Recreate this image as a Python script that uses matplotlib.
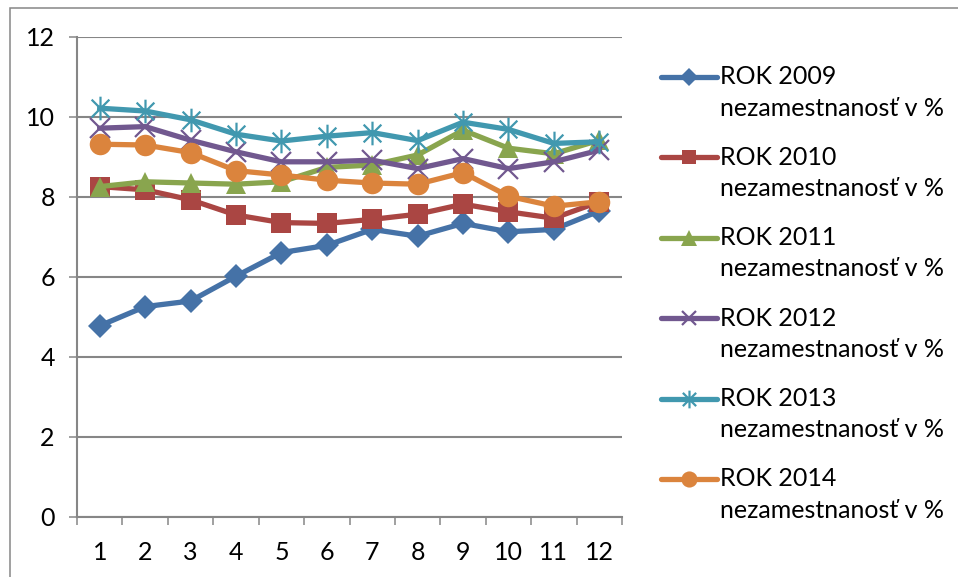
import matplotlib
matplotlib.use("Agg")
import matplotlib.pyplot as plt
from matplotlib.path import Path
from matplotlib.lines import Line2D
from matplotlib.patches import Rectangle

months = [1, 2, 3, 4, 5, 6, 7, 8, 9, 10, 11, 12]
month_labels = ["1", "2", "3", "4", "5", "6", "7", "8", "9", "10", "11", "12"]

rok_2009 = [4.78, 5.26, 5.40, 6.02, 6.61, 6.79, 7.19, 7.02, 7.34, 7.13, 7.19, 7.65]
rok_2010 = [8.26, 8.18, 7.93, 7.55, 7.36, 7.34, 7.44, 7.57, 7.82, 7.63, 7.47, 7.88]
rok_2011 = [8.26, 8.38, 8.35, 8.32, 8.38, 8.74, 8.80, 9.05, 9.67, 9.22, 9.08, 9.42]
rok_2012 = [9.72, 9.76, 9.42, 9.13, 8.88, 8.88, 8.92, 8.71, 8.96, 8.71, 8.88, 9.17]
rok_2013 = [10.22, 10.15, 9.93, 9.57, 9.40, 9.52, 9.61, 9.41, 9.87, 9.69, 9.34, 9.38]
rok_2014 = [9.32, 9.30, 9.11, 8.66, 8.55, 8.42, 8.35, 8.32, 8.61, 8.02, 7.77, 7.88]

labels = ["ROK 2009", "ROK 2010", "ROK 2011", "ROK 2012", "ROK 2013", "ROK 2014"]
sublabel = "nezamestnanosť v %"
y_ticks = [0, 2, 4, 6, 8, 10, 12]

star = Path([(0, -1), (0, 1), (-0.75, -0.75), (0.75, 0.75), (-0.75, 0.75), (0.75, -0.75)],
            [Path.MOVETO, Path.LINETO, Path.MOVETO, Path.LINETO, Path.MOVETO, Path.LINETO])

styles = [
    dict(color="#4572A7", marker="D", ms=12, mew=0),
    dict(color="#AA4643", marker="s", ms=14, mew=0),
    dict(color="#89A54E", marker="^", ms=15, mew=0),
    dict(color="#71588F", marker="x", ms=14, mew=1.6),
    dict(color="#4198AF", marker=star, ms=17, mew=1.6),
    dict(color="#DB843D", marker="o", ms=15.5, mew=0),
]
series = [rok_2009, rok_2010, rok_2011, rok_2012, rok_2013, rok_2014]

plt.rcParams['font.family'] = ['Lato', 'DejaVu Sans']

W, H = 958, 577
fig = plt.figure(figsize=(W / 100, H / 100), dpi=100)
fig.patch.set_facecolor("white")

# outer frame
fig.add_artist(Rectangle((10 / W, -0.1), 1.2, 1 - 8 / H + 0.1, transform=fig.transFigure,
                         fill=False, edgecolor="#868686", linewidth=1.1))

ax = fig.add_axes([77 / W, 1 - 517 / H, 545 / W, 480 / H])
grid_c = "#868686"
for s, st in zip(series, styles):
    ax.plot(months, s, color=st["color"], lw=3.8, marker=st["marker"], ms=st["ms"],
            mew=st["mew"], mec=st["color"], mfc=st["color"], solid_joinstyle="round", zorder=3)

ax.set_xlim(0.5, 12.5)
ax.set_ylim(0, 12)
ax.set_yticks(y_ticks)
ax.set_yticklabels([str(v) for v in y_ticks])
ax.set_xticks([i + 0.5 for i in range(0, 13)])
ax.set_xticklabels([])
ax.set_xticks(months, minor=True)
ax.set_xticklabels(month_labels, minor=True)
ax.tick_params(axis="x", which="major", length=6, width=1.1, color=grid_c, direction="out")
ax.tick_params(axis="x", which="minor", length=0, pad=17, labelsize=18)
ax.tick_params(axis="y", length=6, width=1.1, color=grid_c, pad=10, labelsize=18)
ax.yaxis.grid(True, color=grid_c, lw=1.5, zorder=0)
ax.set_axisbelow(True)
for sp in ["top", "right"]:
    ax.spines[sp].set_visible(False)
for sp in ["left", "bottom"]:
    ax.spines[sp].set_color(grid_c)
    ax.spines[sp].set_linewidth(1.5)

# legend, drawn manually
y0 = 77
dy = 80.4
for i, (lab, st) in enumerate(zip(labels, styles)):
    yy = 1 - (y0 + i * dy) / H
    fig.add_artist(Line2D([661 / W, 717 / W], [yy, yy], transform=fig.transFigure,
                          color=st["color"], lw=3.8, solid_capstyle="round"))
    fig.add_artist(Line2D([689 / W], [yy], transform=fig.transFigure, color=st["color"],
                          marker=st["marker"], ms=st["ms"] * 0.75, mew=st["mew"],
                          mec=st["color"], mfc=st["color"], lw=0))
    fig.text(720 / W, yy, lab, fontsize=18, va="center", ha="left", color="black")
    fig.text(720 / W, yy - 31 / H, sublabel, fontsize=18, va="center", ha="left", color="black")

fig.savefig("out.png", dpi=100)
